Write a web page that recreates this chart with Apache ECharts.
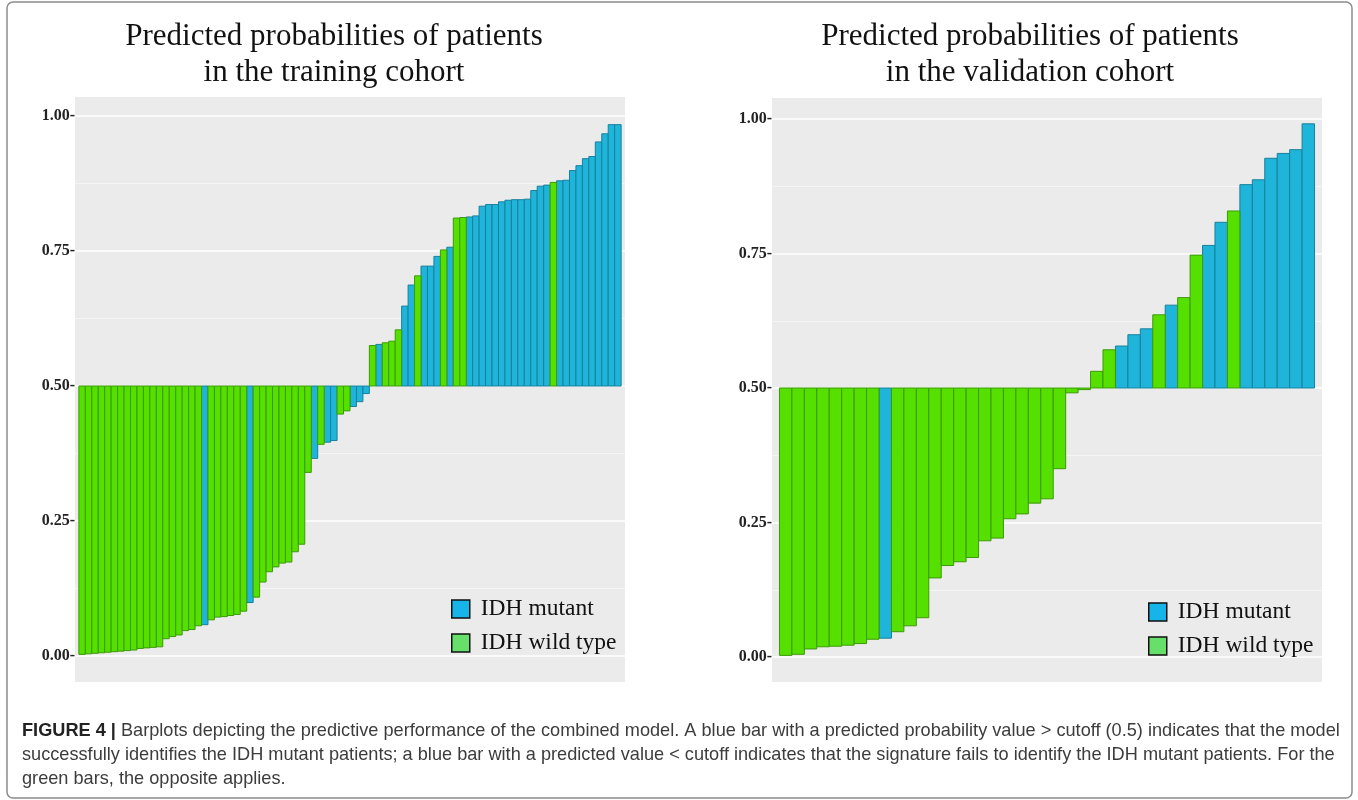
<!DOCTYPE html>
<html>
<head>
<meta charset="utf-8">
<title>Predicted probabilities of patients</title>
<script src="https://cdn.jsdelivr.net/npm/echarts@6/dist/echarts.min.js"></script>
<style>
  html, body { margin: 0; padding: 0; background: #ffffff; }
  #chart { width: 1358px; height: 800px; }
</style>
</head>
<body>
<div id="chart"></div>
<script>
// Predicted probability of IDH mutation per patient, sorted ascending.
const trainProb = [
  0.003, 0.004, 0.005, 0.006, 0.007, 0.008, 0.009, 0.010, 0.011, 0.014,
  0.015, 0.016, 0.017, 0.032, 0.036, 0.039, 0.047, 0.049, 0.056, 0.058,
  0.067, 0.072, 0.073, 0.075, 0.077, 0.083, 0.099, 0.109, 0.137, 0.156,
  0.165, 0.172, 0.174, 0.193, 0.207, 0.340, 0.366, 0.392, 0.396, 0.399,
  0.448, 0.454, 0.462, 0.471, 0.486, 0.575, 0.577, 0.580, 0.583, 0.604,
  0.648, 0.687, 0.704, 0.722, 0.722, 0.740, 0.752, 0.757, 0.811, 0.812,
  0.813, 0.815, 0.833, 0.836, 0.836, 0.841, 0.844, 0.845, 0.845, 0.846,
  0.862, 0.870, 0.872, 0.877, 0.880, 0.881, 0.899, 0.908, 0.921, 0.925,
  0.952, 0.967, 0.984, 0.984
];
// True status: M = IDH mutant, W = IDH wild type
const trainStatus = [
  'W','W','W','W','W','W','W','W','W','W',
  'W','W','W','W','W','W','W','W','W','M',
  'W','W','W','W','W','W','M','W','W','W',
  'W','W','W','W','W','W','M','W','M','M',
  'W','W','M','M','M','W','M','W','W','W',
  'M','M','W','M','M','M','W','M','W','W',
  'M','M','M','M','M','M','M','M','M','M',
  'M','M','M','W','M','M','M','M','M','M',
  'M','M','M','M'
];

const validProb = [
  0.003, 0.005, 0.015, 0.019, 0.020, 0.022, 0.025, 0.033, 0.035, 0.047,
  0.058, 0.073, 0.147, 0.170, 0.177, 0.185, 0.216, 0.221, 0.257, 0.266,
  0.286, 0.294, 0.350, 0.491, 0.497, 0.531, 0.571, 0.578, 0.599, 0.610,
  0.636, 0.654, 0.668, 0.747, 0.765, 0.808, 0.829, 0.878, 0.887, 0.927,
  0.936, 0.943, 0.991
];
const validStatus = [
  'W','W','W','W','W','W','W','W','M','W',
  'W','W','W','W','W','W','W','W','W','W',
  'W','W','W','W','W','W','W','M','M','M',
  'W','M','W','W','M','M','W','M','M','M',
  'M','M','M'
];

const yTicks = [0, 0.25, 0.5, 0.75, 1];
const CUTOFF = 0.5;

const titles = [
  'Predicted probabilities of patients\nin the training cohort',
  'Predicted probabilities of patients\nin the validation cohort'
];
const groupNames = { M: 'IDH mutant', W: 'IDH wild type' };
const caption = [
  'Barplots depicting the predictive performance of the combined model. A blue bar with a predicted probability value > cutoff (0.5) indicates that the model',
  'successfully identifies the IDH mutant patients; a blue bar with a predicted value < cutoff indicates that the signature fails to identify the IDH mutant patients. For the',
  'green bars, the opposite applies.'
];

// ---- styling ----
const BAR = {
  M: { color: '#1fb5da', borderColor: '#17809c' },
  W: { color: '#55e000', borderColor: '#3c9a08' }
};
const KEY = { M: '#16b4e8', W: '#66e06a' };
const PANEL_BG = '#ebebeb';
const SERIF = '"Liberation Serif", "Times New Roman", Times, serif';
const SANS = '"Liberation Sans", Arial, Helvetica, sans-serif';
const CAPTION_SIZE = 19;
const CAPTION_SQUEEZE = 0.956;

// Each bar is drawn from the cutoff up or down to its probability.
function renderBar(params, api) {
  const i = api.value(0);
  const p = api.value(1);
  const base = api.coord([i, CUTOFF]);
  const tip = api.coord([i, p]);
  const w = api.size([1, 0])[0];
  return {
    type: 'rect',
    shape: {
      x: base[0] - w / 2,
      y: Math.min(base[1], tip[1]),
      width: w,
      height: Math.abs(tip[1] - base[1])
    },
    style: api.style()
  };
}

function pick(probs, status, key) {
  const out = [];
  probs.forEach((p, i) => { if (status[i] === key) out.push([i, p]); });
  return out;
}

function barSeries(probs, status, axisIdx) {
  return ['M', 'W'].map(key => ({
    type: 'custom',
    name: groupNames[key],
    xAxisIndex: axisIdx,
    yAxisIndex: axisIdx,
    renderItem: renderBar,
    encode: { x: 0, y: 1 },
    itemStyle: { color: BAR[key].color, borderColor: BAR[key].borderColor, borderWidth: 1 },
    data: pick(probs, status, key),
    z: 3
  }));
}

// ggplot-style labels: the short tick dash sits right after the number
function yAxisFor(gridIndex) {
  return {
    type: 'value', gridIndex: gridIndex,
    min: yTicks[0], max: yTicks[yTicks.length - 1], interval: 0.25,
    axisLine: { show: false },
    axisTick: { show: false },
    axisLabel: {
      margin: 0, color: '#222', fontFamily: SERIF, fontWeight: 'bold', fontSize: 16,
      formatter: v => v.toFixed(2) + '-'
    },
    splitLine: { show: true, lineStyle: { color: '#ffffff', width: 1.6 } },
    minorTick: { show: false, splitNumber: 2 },
    minorSplitLine: { show: true, lineStyle: { color: '#f7f7f7', width: 0.8 } },
    z: 1
  };
}

function xAxisFor(gridIndex, n) {
  return {
    type: 'value', gridIndex: gridIndex,
    min: -1.1, max: n + 0.1,
    show: true,
    axisLine: { show: false }, axisTick: { show: false }, axisLabel: { show: false },
    splitLine: { show: false }
  };
}

function legendFor(left, top) {
  return {
    left: left, top: top, orient: 'vertical', padding: 0,
    icon: 'rect', itemWidth: 18, itemHeight: 18, itemGap: 10,
    textStyle: { fontFamily: SERIF, fontSize: 23.5, color: '#111', lineHeight: 22, padding: [0, 0, 0, 6] },
    selectedMode: false,
    data: ['M', 'W'].map(k => ({
      name: groupNames[k],
      itemStyle: { color: KEY[k], borderColor: '#111', borderWidth: 1.5 }
    }))
  };
}

function captionLine(text, y, rich) {
  return {
    type: 'text', x: 22, y: y, z: 5, scaleX: CAPTION_SQUEEZE,
    style: {
      text: text, fill: '#3c3c3c', font: CAPTION_SIZE + 'px ' + SANS,
      textVerticalAlign: 'middle', rich: rich
    }
  };
}

const graphics = [
  // figure frame
  { type: 'rect', z: -20, shape: { x: 7, y: 2, width: 1345, height: 796, r: 6 },
    style: { fill: null, stroke: '#8c8c8c', lineWidth: 1.5 } },
  // panel backgrounds
  { type: 'rect', z: -10, shape: { x: 75, y: 97, width: 550, height: 585 }, style: { fill: PANEL_BG } },
  { type: 'rect', z: -10, shape: { x: 772, y: 98, width: 550, height: 584 }, style: { fill: PANEL_BG } },
  // panel titles
  { type: 'text', x: 334, y: 19, z: 5,
    style: { text: titles[0], font: '31px ' + SERIF, fill: '#111', textAlign: 'center', textVerticalAlign: 'top', lineHeight: 36 } },
  { type: 'text', x: 1030, y: 19, z: 5,
    style: { text: titles[1], font: '31px ' + SERIF, fill: '#111', textAlign: 'center', textVerticalAlign: 'top', lineHeight: 36 } },
  // caption
  captionLine('{b|FIGURE 4 |} ' + caption[0], 731,
    { b: { fontWeight: 'bold', fontFamily: SANS, fontSize: CAPTION_SIZE, fill: '#222' } }),
  captionLine(caption[1], 755),
  captionLine(caption[2], 779)
];

const chart = echarts.init(document.getElementById('chart'), null, { renderer: 'canvas' });
chart.setOption({
  backgroundColor: '#ffffff',
  animation: false,
  graphic: { elements: graphics },
  grid: [
    { left: 75, top: 116, width: 550, height: 540 },
    { left: 772, top: 119, width: 550, height: 538 }
  ],
  xAxis: [xAxisFor(0, trainProb.length), xAxisFor(1, validProb.length)],
  yAxis: [yAxisFor(0), yAxisFor(1)],
  legend: [legendFor(451, 597), legendFor(1148, 600)],
  series: [].concat(
    barSeries(trainProb, trainStatus, 0),
    barSeries(validProb, validStatus, 1)
  )
});
</script>
</body>
</html>
